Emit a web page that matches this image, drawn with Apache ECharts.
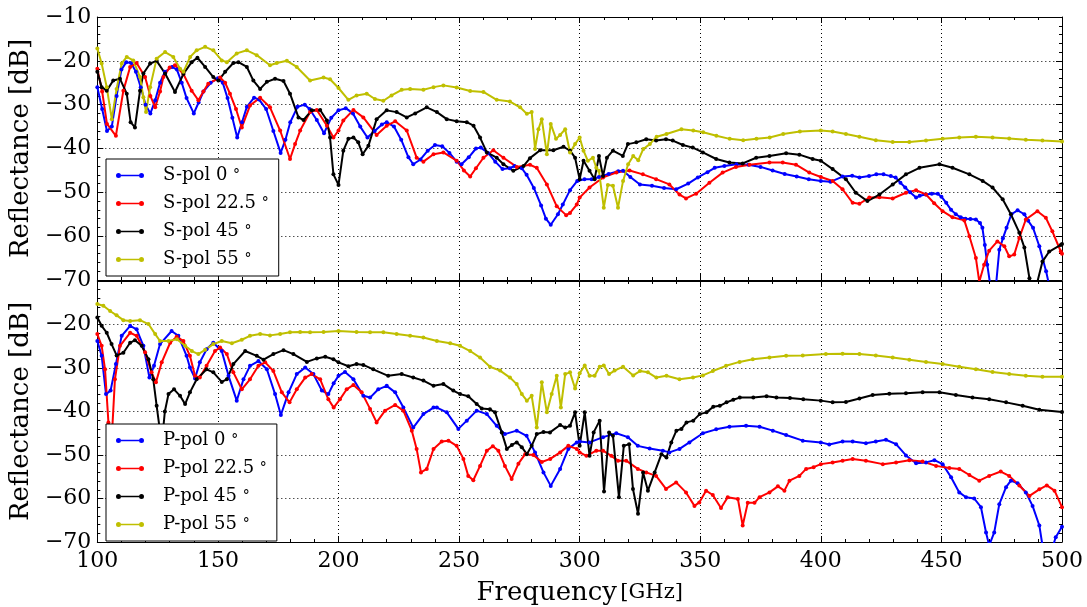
<!DOCTYPE html>
<html>
<head>
<meta charset="utf-8">
<script src="https://cdn.jsdelivr.net/npm/echarts@6/dist/echarts.min.js"></script>
<style>
  html, body { margin: 0; padding: 0; background: #fff; }
  #chart { width: 1087px; height: 607px; }
</style>
</head>
<body>
<div id="chart"></div>
<script>
// [frequency GHz, reflectance dB]
const sPol0 = [[100,-26],[102,-31],[104,-36],[106,-35],[108,-28],[110,-22],[112,-20.3],[114,-20.5],[116,-22.5],[118,-26],[120,-30],[122,-32],[124,-29],[126,-25],[128,-22.5],[131,-21.4],[133,-22],[135,-25],[137,-28.5],[140,-32],[142,-29.5],[144,-27],[147,-25],[150,-24],[152,-25],[154,-28.5],[156,-33],[158,-37.5],[160,-34],[162,-30.5],[165,-28.4],[167,-28.8],[170,-31],[173,-36],[176,-41],[178,-38],[180,-34],[183,-30.5],[186,-30],[188,-31],[191,-33.5],[194,-36.5],[197,-33],[200,-31.3],[203,-30.8],[206,-32],[209,-35],[212,-37.5],[215,-36],[218,-34.5],[220,-34],[223,-35],[226,-38],[229,-42],[231,-43.6],[234,-42.5],[237,-40.5],[240,-39.2],[243,-39.5],[246,-41],[249,-43],[251,-43.6],[254,-42],[257,-40],[259,-39.8],[262,-41],[265,-43],[268,-44.7],[271,-44.5],[273,-44],[276,-44.5],[278,-46],[281,-49],[284,-53],[286,-56],[288,-57.4],[291,-55],[293,-52.8],[296,-49.5],[299,-47.4],[302,-47],[305,-47],[308,-46.5],[312,-45.8],[316,-45.2],[318,-45.1],[321,-46.5],[325,-48.2],[330,-48.5],[335,-49],[340,-49.3],[345,-48],[349,-46.6],[353,-45.4],[356,-44.4],[360,-44],[365,-43.6],[370,-43.7],[375,-44.2],[380,-45],[385,-45.8],[390,-46.4],[395,-47],[400,-47.4],[404,-47.6],[409,-46.4],[413,-46.2],[416,-46.6],[420,-46.3],[423,-45.9],[426,-45.9],[429,-46.3],[431,-46.6],[433,-47.8],[435,-48.9],[437,-50],[439.5,-51.2],[441,-50.8],[443.5,-50.5],[446,-50.3],[448.5,-50.3],[450,-51],[452,-52.4],[454,-54],[456,-55],[458,-55.7],[460,-56],[462,-56.1],[464.3,-56.2],[466,-57],[467,-58.1],[468,-62],[469,-66.5],[470.5,-72],[472.5,-72],[474,-63.1],[475.5,-60.5],[477,-58.1],[479,-55],[481.6,-54.1],[484.4,-55],[486,-56.5],[488,-58.1],[490.6,-62.3],[493.4,-68],[495,-72],[500,-75]];

const sPol22 = [[100,-21.8],[102,-27],[104,-34.4],[107.7,-37.1],[110.8,-26.8],[113.6,-21.4],[116.3,-20.5],[119.8,-23.7],[122,-28],[124,-30.6],[126,-27],[127.4,-23.7],[130,-21.5],[132.2,-21],[135.7,-23],[139.1,-26.8],[141.9,-29],[144,-27],[146,-25.2],[150.9,-23.8],[153,-25],[155,-27.5],[157.5,-31],[159.9,-35.2],[163.3,-30.2],[167.5,-28.4],[171.6,-30.6],[175.8,-35.9],[179.9,-42.4],[182,-39],[184.1,-35.9],[188.2,-31.7],[191,-31.2],[195.2,-34.8],[197.9,-37.5],[200,-35.9],[202,-33.6],[206.2,-31.2],[210.3,-32.9],[215.8,-36.9],[220,-34.8],[223.5,-33.8],[228.3,-35.9],[232.4,-42.1],[235.2,-43],[239.4,-41.3],[243.5,-40.9],[249,-42.8],[252,-45],[254.6,-46.4],[257,-44.5],[260.1,-42.1],[264.2,-40.4],[268.4,-42.1],[273.9,-44.2],[279.4,-43.7],[282.2,-44.4],[286.4,-48.2],[290.5,-53.2],[294.4,-55.2],[296,-54.7],[298.8,-52.8],[300,-51.2],[304.1,-48.9],[309.7,-46.6],[315.2,-45.5],[320.7,-45],[326.2,-45.9],[331.7,-47],[337.2,-48.2],[341.4,-50.5],[344.1,-51.4],[348.3,-50.3],[353.8,-47.8],[359.3,-45.5],[364.8,-44.2],[370.4,-43.7],[378.7,-43.2],[384.2,-43.2],[389.7,-43.7],[395.2,-45.5],[400,-46.5],[404.9,-47.4],[409,-49.3],[413.2,-52.4],[416,-52.6],[420.1,-51.2],[424.3,-51.1],[429.8,-51.4],[435.3,-50.1],[439.5,-49.5],[443.6,-50.5],[447,-52.5],[450.5,-54.3],[454.6,-55.7],[459.5,-56.4],[461.6,-60],[464.3,-65],[465.7,-70.4],[467.7,-66.5],[469.8,-63.3],[473.2,-61.2],[476.1,-62.3],[478.1,-64.6],[480.2,-64.2],[482.3,-60.4],[485,-56.2],[489.8,-54.3],[493.3,-55.8],[496,-58.9],[499.5,-63.5],[500,-64]];

const sPol45 = [[100,-22.5],[101.8,-26],[103.9,-26.8],[106.6,-24.5],[109.4,-24.1],[112.2,-27.5],[113.8,-34],[115.6,-35.2],[117.7,-26.8],[119.1,-22.9],[121.9,-20.6],[124.6,-20],[128.1,-22.9],[132.2,-27.1],[135.7,-23],[139.1,-20.3],[141.5,-19.3],[144.7,-21.4],[148.1,-23.7],[150.2,-24.5],[153,-22.5],[156.4,-20.5],[158.5,-20.3],[162,-21.4],[164.7,-24.5],[167.5,-26.4],[170.3,-24.8],[173.7,-24.1],[177.2,-24.6],[179.9,-27.5],[183.4,-32.9],[185.5,-33.5],[188.9,-31.3],[192.4,-31.2],[195.2,-33.6],[196.5,-37.5],[197.9,-45.9],[200,-48.3],[202,-40.5],[204.1,-37.8],[206.2,-37.5],[208.2,-38.6],[210,-41.3],[212.4,-39.4],[215.8,-33.3],[220,-31.3],[224.1,-31.7],[228.3,-32.9],[231.8,-32],[236.6,-30.6],[240.8,-31.7],[244.9,-33.3],[249,-33.8],[253.2,-34],[256,-34.8],[258.7,-37.5],[261.5,-40.9],[265.6,-42.1],[268.4,-43.6],[272.5,-45.1],[276.7,-44],[279.4,-42.2],[283.6,-40.4],[289.1,-40.4],[293.3,-39.6],[296,-40.5],[298.1,-42.1],[300,-47],[301.6,-42.8],[304.1,-45.1],[306.2,-47],[308,-41.7],[309.7,-46.3],[311.3,-42.1],[313.8,-40.5],[317.9,-41.7],[320,-39],[323.5,-38.6],[327.6,-37.9],[331.7,-38.2],[335.8,-37.9],[338.6,-38.2],[342.8,-39.2],[346.9,-39.8],[351.1,-40.9],[356.6,-42.4],[362.1,-43.2],[367.6,-43.4],[373.2,-42.1],[378.7,-41.7],[385.6,-41.1],[391.1,-41.4],[396.6,-42.4],[400,-42.8],[404.9,-44.7],[410.4,-47],[414.5,-50.1],[419.3,-52],[424.3,-50.5],[429.8,-48.2],[435.3,-45.9],[440.9,-44.4],[449.2,-43.6],[454.6,-44.4],[461.6,-45.9],[467.1,-47.4],[471.2,-48.9],[475.4,-51.6],[478.8,-55],[482.3,-59.2],[484.4,-62.6],[486.5,-69.6],[488,-73],[489.8,-70.4],[491.9,-65.8],[494.7,-63.5],[499.5,-62],[500,-61.8]];

const sPol55 = [[100,-17.2],[101.8,-20.6],[103.9,-26],[106,-33.3],[108,-26.4],[110.1,-20.6],[112.2,-19.1],[114.9,-19.9],[117.7,-23.7],[119.1,-28.3],[120.2,-31.7],[121.9,-26],[124.6,-19.5],[128.1,-18],[131.5,-19.1],[134.3,-21.8],[135.7,-22.5],[138.5,-19.1],[141.2,-17.6],[144.7,-16.8],[148.1,-17.6],[151.6,-19.9],[153.7,-20.3],[157.8,-18.3],[162,-17.6],[166.1,-18.7],[171.6,-21],[174.4,-20.5],[178.6,-20],[182.7,-21.4],[188.2,-24.5],[193.8,-23.8],[196.5,-24.2],[200,-26.2],[204.1,-28.9],[207.5,-27.9],[211.7,-27.5],[215.1,-28.7],[218.6,-29.1],[222,-27.9],[226.2,-26.6],[229.7,-26.4],[235.2,-26.6],[239.4,-26],[243.5,-25.6],[249,-26.1],[254.6,-26.9],[260.1,-27.1],[265.6,-28.9],[271.1,-29.3],[275.3,-30.6],[278.1,-32.1],[280.1,-31.7],[281.5,-40.1],[282.9,-35.6],[284.3,-33.3],[286.4,-41.3],[288,-34.4],[290.2,-37.8],[291.9,-36.9],[294,-35.6],[296,-40.9],[298.1,-39],[300,-37.5],[301.6,-40.5],[303.4,-42.8],[305.5,-42.1],[306.9,-44.4],[308,-45.1],[310,-53.5],[311.7,-48.3],[313.8,-48.5],[315.9,-53.5],[318,-47.4],[320.1,-43.6],[322.2,-41.7],[324.3,-42.7],[326.4,-40.1],[329.1,-39],[331.9,-37.3],[336,-36.7],[342.2,-35.6],[347.1,-35.9],[351.2,-36.3],[356.7,-37.1],[362.2,-37.8],[367.8,-38.1],[373.3,-37.8],[378.8,-37.5],[384.4,-36.7],[391.3,-36.1],[400,-35.9],[404.9,-36.1],[410.4,-36.7],[416,-37.3],[422.8,-38.1],[429.8,-38.5],[436.7,-38.5],[443.6,-38.2],[450.5,-37.8],[457.4,-37.5],[464.3,-37.3],[471.2,-37.5],[478.1,-37.7],[485,-38],[491.9,-38.2],[500,-38.4]];

const pPol0 = [[100,-23.8],[101.8,-27.2],[103.6,-36],[105.5,-35.2],[107.7,-29.1],[110.1,-22.6],[113.6,-20.3],[116.3,-21.1],[119.1,-24.9],[121.6,-32.2],[123.5,-29.5],[126,-24.5],[130.8,-21.5],[133.6,-22.6],[137,-27.2],[138.4,-29.9],[140.5,-32.4],[142.5,-28.7],[145.3,-25.7],[148.1,-24.2],[151.6,-26.1],[154.4,-31.8],[157.8,-37.5],[160.6,-32.6],[163.3,-29.5],[166.8,-28.4],[170.3,-30.3],[173.7,-36],[176.1,-40.8],[179.3,-35.6],[182.7,-31.4],[186.2,-29.9],[189.6,-31.4],[193.1,-35.2],[195.8,-36],[198,-33.5],[200,-31.8],[202.7,-30.9],[206.2,-32.6],[210.3,-36.4],[213.1,-36.8],[216.5,-34.9],[220,-34.1],[223.5,-35.6],[226.9,-39.1],[231,-43.7],[235.2,-40.6],[239.4,-39.1],[240.8,-39.1],[244.9,-40.2],[249.7,-44],[253.2,-42.1],[257.3,-39.8],[261.5,-40.6],[265.6,-43.3],[269,-45.2],[273.9,-44.4],[278,-45.6],[281.5,-49.4],[285,-54],[288,-57.1],[291.9,-53.2],[295.3,-48.6],[298.8,-47.1],[300,-46.9],[304.1,-47.1],[309.7,-45.9],[315.2,-45],[320,-45.9],[324.1,-47.9],[329,-48.5],[334.5,-49],[337.2,-49.4],[341.4,-48.6],[345.5,-47.1],[351.1,-45],[356.6,-44.1],[362.1,-43.5],[369,-43.3],[374.6,-43.5],[380.1,-44.4],[385.6,-45.4],[392.5,-46.7],[400,-47.1],[403.5,-47.6],[409,-46.9],[413.2,-46.9],[418.7,-47.3],[422.8,-46.9],[427,-46.5],[431.2,-47.5],[435.3,-50.1],[439.5,-51.9],[443.6,-51.7],[447.1,-51.2],[450.5,-52.1],[454,-55.1],[457.4,-58.6],[460.2,-59.7],[463.6,-60],[466.4,-62],[468.5,-67.8],[469.8,-70.8],[471.9,-67.8],[474,-61.3],[476.8,-57.4],[478.8,-55.9],[481.6,-56.5],[485,-58.6],[487.8,-61.7],[490.6,-66.2],[491.9,-70.8],[494.5,-74],[497.4,-68.9],[500,-66.5]];

const pPol22 = [[100,-22.2],[101.8,-24.9],[103.2,-30.3],[104.6,-42.5],[106,-46],[107.3,-32.6],[109.4,-24.9],[113.6,-21.9],[116.3,-22.6],[119.8,-26.4],[122.5,-31],[124.3,-33.3],[126.7,-28.7],[130.2,-24.2],[132.9,-22.8],[135.7,-23.8],[138.4,-27.2],[140.5,-31.8],[142.5,-32.2],[145.3,-29.5],[148.8,-26.1],[150.9,-25.3],[153.7,-26.8],[156.4,-31],[159.9,-34.9],[163.3,-32.6],[166.8,-29.5],[169.6,-28.7],[173,-30.7],[176.5,-35.6],[179.7,-37.9],[182.7,-34.9],[186.2,-32.2],[188.9,-31.4],[192.4,-32.6],[195.8,-37.2],[198,-39.1],[200.6,-37.2],[203.4,-34.9],[206.2,-33.9],[209.6,-35.6],[213.1,-39.4],[215.8,-42.5],[219.3,-39.8],[223.5,-38.5],[226.9,-39.8],[230.4,-44.4],[232.4,-48.6],[234.2,-54],[236.6,-53.2],[239.4,-48.6],[242.8,-46.9],[245.6,-46.7],[249,-47.9],[251.8,-50.9],[253.8,-54.8],[255.9,-55.8],[258.7,-52.5],[261.5,-49],[264,-48],[266.3,-49],[269,-52.5],[271.8,-55.5],[274.6,-52],[277.4,-49.8],[280.8,-50],[284.3,-51.6],[287.8,-50.9],[291.9,-49.4],[295.3,-47.9],[298.8,-48.6],[300,-49.4],[302.8,-50.2],[306.9,-49],[309.7,-49],[313.1,-50.2],[315.9,-51.3],[319.3,-51.3],[324.1,-53.2],[327.6,-54],[331.7,-54.8],[335.8,-57.8],[340,-56.3],[344.1,-58.6],[347.6,-61.7],[349.6,-60.9],[352.4,-58.2],[355.2,-59.2],[358.6,-62.2],[361.4,-59.7],[365.6,-60.1],[367.6,-66.2],[369.7,-61],[372.5,-61],[374.6,-59.7],[378.7,-58.6],[382.2,-57.2],[384.9,-58.2],[387,-55.9],[391.1,-54.8],[393.9,-53.2],[397,-52.8],[400,-52.1],[404.9,-51.7],[409,-51.3],[413.2,-50.9],[418.7,-51.3],[425.7,-52.1],[431.2,-51.7],[436.7,-51.2],[442.2,-51.5],[447.8,-52.5],[453.3,-53],[457.4,-53.2],[461.6,-54.6],[465.7,-55.9],[469.8,-54.8],[474.6,-53.8],[478.1,-54.8],[482.3,-57],[486.5,-59.4],[490.6,-57.9],[493.7,-57],[496.9,-58.2],[500,-62]];

const pPol45 = [[100,-18.4],[101.8,-20.3],[103.9,-21.9],[105.9,-24.5],[108,-27.1],[110.8,-26.5],[113.6,-24.2],[115.6,-23.6],[118.4,-24.9],[121.2,-28],[123.2,-32.6],[124.6,-38.7],[125.7,-43.3],[126.8,-47],[128,-40],[129.5,-36],[131.8,-34.9],[134.3,-36.4],[136.4,-38.3],[138.4,-35.6],[141.2,-32.6],[145.3,-30.3],[148.1,-31],[151.6,-33.2],[153.7,-32.6],[156.4,-29.1],[161.3,-26.1],[166.1,-27.2],[168.9,-28.1],[173,-26.8],[177.2,-25.9],[181.3,-26.8],[186.9,-28.6],[191,-27.8],[194.5,-27.4],[197.9,-28],[200,-28.7],[204.1,-29.6],[207.5,-29.1],[210.3,-29.3],[214.4,-30.3],[220.6,-31.8],[226.2,-31.4],[231,-32.2],[235.2,-32.9],[239.4,-34.1],[243.5,-33.7],[247.6,-35.2],[250.4,-36],[253.8,-36.5],[257.3,-38.3],[259.4,-39.3],[262.8,-39.5],[264.9,-40.2],[267.7,-44.8],[269.8,-48.6],[271.9,-47.7],[273.9,-47.1],[276,-48.2],[278.1,-49.8],[280.1,-47.9],[282.2,-45.2],[285,-44.7],[287.7,-44.8],[291.9,-43.1],[294,-43.7],[296,-43.3],[298.1,-40.2],[300,-47.9],[302.1,-40.2],[304.1,-50.2],[305.8,-44.8],[308.3,-42.1],[310.1,-58.4],[312.2,-44.8],[313.8,-45.6],[316.3,-59.7],[318.3,-47.9],[320.5,-47.5],[322.1,-57.8],[324.2,-63.5],[326.3,-54],[328.3,-58.2],[331.1,-54],[333.9,-49.8],[336,-50.6],[338,-47.1],[340.1,-44.4],[342.2,-44],[344.3,-42.5],[347.1,-42.1],[349.8,-40.6],[352.6,-40.2],[355.4,-38.9],[358.1,-38.7],[360.9,-37.9],[363.7,-37.3],[366.4,-36.8],[372,-36.8],[377.5,-36.5],[381.6,-36.8],[387.2,-36.9],[392.7,-37.2],[400,-37.5],[404.9,-37.9],[410.4,-37.8],[416,-37],[421.5,-36.2],[428.4,-35.9],[435.3,-35.8],[442.2,-35.6],[449.2,-35.6],[456,-36.2],[462.9,-36.8],[469.8,-37.2],[476.8,-37.9],[483.7,-38.7],[490.6,-39.6],[500,-40.1]];

const pPol55 = [[100,-15.3],[102.5,-15.7],[105.3,-16.9],[108,-17.9],[110.8,-19],[113.6,-19.2],[117.7,-19],[121.2,-19.9],[124,-22.2],[126,-23.8],[129.5,-23.8],[133,-23.4],[136.4,-24.9],[139.2,-26.1],[141.9,-26.8],[144.7,-25.8],[148.1,-24.5],[151.6,-23.8],[155.8,-24.3],[159.9,-23.5],[163.3,-22.6],[167.5,-22.2],[171.6,-22.5],[175.8,-22.2],[179.9,-21.8],[184.1,-21.7],[188.2,-21.8],[193.8,-21.7],[200,-21.5],[207.5,-21.7],[213.1,-21.8],[218.6,-21.8],[224.1,-22.2],[229.7,-22.6],[235.2,-23],[240.8,-23.8],[246.3,-24.3],[250.4,-24.9],[254.6,-26.1],[258.7,-27.6],[262.8,-29.7],[267,-30.6],[271.1,-32.2],[273.9,-33.7],[276,-36],[278.1,-37.5],[280.1,-36.4],[282.2,-43.7],[284.3,-33.3],[286.4,-40.2],[288.4,-36],[290.5,-31.8],[292.2,-39.1],[294,-31.4],[296,-31],[298.1,-34.7],[300,-31.2],[302.1,-29.4],[304.1,-31.8],[306.2,-31.8],[308.3,-29.7],[310,-29.4],[312.2,-31.4],[314.5,-30.6],[318,-29.7],[322.2,-31.7],[325,-30.7],[328.3,-31],[331.8,-32.2],[336,-31.8],[341.4,-32.6],[347,-32.2],[351.1,-31.7],[355.2,-30.7],[360.7,-29.5],[366.3,-28.6],[371.8,-28],[378.7,-27.6],[385.6,-27.2],[392.5,-27.1],[402.1,-26.8],[409,-26.7],[416,-26.8],[422.8,-27.1],[429.8,-27.6],[436.7,-28.1],[443.6,-28.6],[450.5,-29.1],[457.4,-29.7],[464.3,-30.3],[471.2,-30.9],[478.1,-31.4],[485,-31.8],[491.9,-32],[500,-32]];

const sNames = ['S-pol 0°', 'S-pol 22.5°', 'S-pol 45°', 'S-pol 55°'];
const pNames = ['P-pol 0°', 'P-pol 22.5°', 'P-pol 45°', 'P-pol 55°'];
const colors = ['#0000ff', '#ff0000', '#000000', '#bfbf00'];

const SERIF = 'DejaVu Serif';
const minus = v => (v < 0 ? '\u2212' + Math.abs(v) : '' + v);

// legend glyph: short line with a dot at each end (matplotlib style)
const LEGEND_ICON = 'path://M0,3.5a2.5,2.5 0 1,0 5,0a2.5,2.5 0 1,0 -5,0z' +
  'M23,3.5a2.5,2.5 0 1,0 5,0a2.5,2.5 0 1,0 -5,0z' +
  'M5,2.7L23,2.7L23,4.3L5,4.3z';

// x axis (frequency) for a grid; top copies only carry the mirrored ticks
function freqAxis(gridIndex, position, withLabels) {
  return {
    type: 'value', gridIndex: gridIndex, position: position,
    min: 100, max: 500, interval: 50,
    axisLine: { show: true, onZero: false, lineStyle: { color: '#000', width: 1 } },
    axisTick: { show: true, inside: true, length: 6, lineStyle: { color: '#000' } },
    minorTick: { show: true, splitNumber: 5, length: 3, lineStyle: { color: '#000' } },
    axisLabel: { show: withLabels, color: '#000', fontFamily: SERIF, fontSize: 22, margin: 8 },
    splitLine: { show: position === 'bottom', lineStyle: { color: '#000', type: [1, 3], width: 1 } }
  };
}

function dbAxis(gridIndex, position, withLabels, showMax) {
  return {
    type: 'value', gridIndex: gridIndex, position: position,
    min: -70, max: -10, interval: 10,
    axisLine: { show: true, onZero: false, lineStyle: { color: '#000', width: 1 } },
    axisTick: { show: true, inside: true, length: 6, lineStyle: { color: '#000' } },
    minorTick: { show: true, splitNumber: 5, length: 3, lineStyle: { color: '#000' } },
    axisLabel: { show: withLabels, color: '#000', fontFamily: SERIF, fontSize: 22, margin: 6,
                 showMaxLabel: showMax, formatter: minus },
    splitLine: { show: position === 'left', lineStyle: { color: '#000', type: [1, 3], width: 1 } },
    name: withLabels ? 'Reflectance [dB]' : '',
    nameLocation: 'middle', nameGap: 62,
    nameTextStyle: { color: '#000', fontFamily: SERIF, fontSize: 26 }
  };
}

function lineSeries(name, data, color, axisIdx) {
  return {
    name: name, type: 'line', data: data,
    xAxisIndex: axisIdx, yAxisIndex: axisIdx,
    color: color, symbol: 'circle', symbolSize: 4, showSymbol: true,
    lineStyle: { width: 2, color: color }, itemStyle: { color: color },
    clip: true, animation: false
  };
}

function legendBox(names, top) {
  return {
    data: names, orient: 'vertical', left: 106, top: top,
    icon: LEGEND_ICON, itemWidth: 28, itemHeight: 5, itemGap: 7,
    padding: [6, 10, 6, 10],
    backgroundColor: '#fff', borderColor: '#000', borderWidth: 1, borderRadius: 0,
    formatter: n => n.replace('°', ' {d|°}'),
    textStyle: {
      color: '#000', fontFamily: SERIF, fontSize: 18, lineHeight: 21, padding: [0, 0, 0, 14],
      rich: { d: { fontFamily: SERIF, fontSize: 14, color: '#000', lineHeight: 21 } }
    },
    selectedMode: false
  };
}

const chart = echarts.init(document.getElementById('chart'));

const xBottom = freqAxis(1, 'bottom', true);
xBottom.name = '{a|Frequency} {b|[GHz]}';
xBottom.nameLocation = 'middle';
xBottom.nameGap = 38;
xBottom.nameTextStyle = { color: '#000', rich: {
  a: { fontFamily: SERIF, fontSize: 26, color: '#000' },
  b: { fontFamily: SERIF, fontSize: 21, color: '#000' }
} };

const option = {
  backgroundColor: '#fff',
  animation: false,
  grid: [
    { left: 97, right: 25, top: 17, height: 263 },
    { left: 97, right: 25, top: 281, height: 262 }
  ],
  xAxis: [
    freqAxis(0, 'bottom', false),
    xBottom,
    freqAxis(0, 'top', false),
    freqAxis(1, 'top', false)
  ],
  yAxis: [
    dbAxis(0, 'left', true, true),
    dbAxis(1, 'left', true, false),
    dbAxis(0, 'right', false, true),
    dbAxis(1, 'right', false, true)
  ],
  legend: [legendBox(sNames, 159), legendBox(pNames, 424)],
  series: [
    lineSeries(sNames[0], sPol0, colors[0], 0),
    lineSeries(sNames[1], sPol22, colors[1], 0),
    lineSeries(sNames[2], sPol45, colors[2], 0),
    lineSeries(sNames[3], sPol55, colors[3], 0),
    lineSeries(pNames[0], pPol0, colors[0], 1),
    lineSeries(pNames[1], pPol22, colors[1], 1),
    lineSeries(pNames[2], pPol45, colors[2], 1),
    lineSeries(pNames[3], pPol55, colors[3], 1)
  ]
};

chart.setOption(option);
</script>
</body>
</html>
